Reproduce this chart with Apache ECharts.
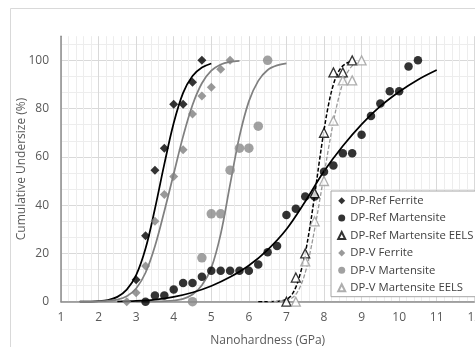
<!DOCTYPE html>
<html>
<head>
<meta charset="utf-8">
<script src="https://cdn.jsdelivr.net/npm/echarts@6.0.0/dist/echarts.min.js"></script>
<style>
  html, body { margin: 0; padding: 0; background: #ffffff; }
  #chart { width: 475px; height: 347px; }
</style>
</head>
<body>
<div id="chart"></div>
<script>
// ---------- axis settings ----------
const xTicks = [1, 2, 3, 4, 5, 6, 7, 8, 9, 10, 11, 12];
const yTicks = [0, 20, 40, 60, 80, 100];
const yMax = 110;

// ---------- measured points ----------
const refFerriteX = [3, 3.25, 3.5, 3.75, 4, 4.25, 4.5, 4.75];
const refFerriteY = [9.1, 27.3, 54.5, 63.6, 81.8, 81.8, 90.9, 100];

const refMartX = [3.25, 3.5, 3.75, 4, 4.25, 4.5, 4.75, 5, 5.25, 5.5, 5.75, 6, 6.25, 6.5, 6.75, 7, 7.25, 7.5, 7.75, 8, 8.25, 8.5, 8.75, 9, 9.25, 9.5, 9.75, 10, 10.25, 10.5];
const refMartY = [0, 2.6, 2.6, 5.1, 7.7, 7.7, 10.3, 12.8, 12.8, 12.8, 12.8, 12.8, 15.4, 20.5, 23.1, 35.9, 38.5, 43.6, 43.6, 53.8, 56.4, 61.5, 61.5, 69.2, 76.9, 82.1, 87.2, 87.2, 97.4, 100];

const refEelsX = [7, 7.25, 7.5, 7.75, 8, 8.25, 8.5, 8.75];
const refEelsY = [0, 10, 20, 45, 70, 95, 95, 100];

const vFerriteX = [2.75, 3, 3.25, 3.5, 3.75, 4, 4.25, 4.5, 4.75, 5, 5.25, 5.5];
const vFerriteY = [0, 3.7, 14.8, 33.3, 44.4, 51.9, 63, 77.8, 85.2, 88.9, 96.3, 100];

const vMartX = [4.5, 4.75, 5, 5.25, 5.5, 5.75, 6, 6.25, 6.5];
const vMartY = [0, 18.2, 36.4, 36.4, 54.5, 63.6, 63.6, 72.7, 100];

const vEelsX = [7.25, 7.5, 7.75, 8, 8.25, 8.5, 8.75, 9];
const vEelsY = [0, 16.7, 33.3, 50, 75, 91.7, 91.7, 100];

// ---------- fitted curves ----------
const fitRefFerriteX = [1.5, 1.75, 2, 2.25, 2.5, 2.75, 3, 3.25, 3.5, 3.75, 4, 4.25, 4.5, 4.75, 5];
const fitRefFerriteY = [0, 0.05, 0.2, 0.7, 2, 5, 11, 22, 38.5, 57, 74, 86.5, 93.5, 97, 98.7];

const fitVFerriteX = [1.5, 1.75, 2, 2.25, 2.5, 2.75, 3, 3.25, 3.5, 3.75, 4, 4.25, 4.5, 4.75, 5, 5.25, 5.5, 5.75];
const fitVFerriteY = [0, 0.03, 0.1, 0.35, 0.9, 2.3, 5.5, 12, 23, 37.5, 53, 68.5, 81.5, 90.5, 95.7, 98.3, 99.4, 99.8];

const fitVMartX = [3, 3.25, 3.5, 3.75, 4, 4.25, 4.5, 4.75, 5, 5.25, 5.5, 5.75, 6, 6.25, 6.5, 6.75, 7];
const fitVMartY = [0, 0.02, 0.08, 0.2, 0.5, 1.2, 3, 6.8, 14, 28, 48.5, 68.5, 83, 91.5, 96, 97.9, 98.7];

const fitRefMartX = [2.5, 3, 3.5, 4, 4.5, 5, 5.5, 6, 6.5, 7, 7.5, 8, 8.5, 9, 9.5, 10, 10.5, 11];
const fitRefMartY = [0, 0.3, 0.9, 2, 3.8, 6.5, 10.2, 15, 21.5, 30, 41.5, 54, 64.5, 73.5, 81, 87, 92, 96];

const fitRefEelsX = [6.25, 6.5, 6.75, 7, 7.125, 7.25, 7.375, 7.5, 7.625, 7.75, 7.875, 8, 8.125, 8.25, 8.375, 8.5, 8.625, 8.75];
const fitRefEelsY = [0, 0, 0.1, 1, 2.5, 6, 12, 20, 31, 44, 58, 71, 82, 90, 95, 97.7, 99, 99.6];

const fitVEelsX = [6.5, 6.75, 7, 7.125, 7.25, 7.375, 7.5, 7.625, 7.75, 7.875, 8, 8.125, 8.25, 8.375, 8.5, 8.625, 8.75, 8.875];
const fitVEelsY = [0, 0.1, 0.6, 1.3, 3, 6.5, 12, 20, 30, 41, 52.5, 64, 74.5, 83.5, 90.5, 95, 97.7, 99];

const legendNames = ['DP-Ref Ferrite', 'DP-Ref Martensite', 'DP-Ref Martensite EELS', 'DP-V Ferrite', 'DP-V Martensite', 'DP-V Martensite EELS'];

// ---------- build ----------
const zip = (xs, ys) => xs.map((x, i) => [x, ys[i]]);
const FONT = '"Open Sans", "Noto Sans", sans-serif';

function fit(name, xs, ys, color, width, type) {
  return {
    name: name, type: 'line', data: zip(xs, ys), showSymbol: false, symbol: 'none',
    smooth: 0.35, silent: true, z: 2,
    lineStyle: { color: color, width: width, type: type || 'solid' }
  };
}
function pts(name, xs, ys, symbol, size, itemStyle) {
  return {
    name: name, type: 'scatter', data: zip(xs, ys), symbol: symbol, symbolSize: size,
    itemStyle: itemStyle, z: 5
  };
}

const chart = echarts.init(document.getElementById('chart'), null, { renderer: 'canvas' });
chart.setOption({
  animation: false,
  backgroundColor: '#ffffff',
  graphic: [{
    type: 'rect', silent: true, z: -10,
    shape: { x: 10.5, y: 8.5, width: 480, height: 360 },
    style: { fill: 'none', stroke: '#d9d9d9', lineWidth: 1 }
  }],
  grid: { left: 61, top: 36.2, right: 0.7, bottom: 45.3, containLabel: false, outerBoundsMode: 'none' },
  xAxis: {
    type: 'value', min: xTicks[0], max: xTicks[xTicks.length - 1], interval: 1,
    name: 'Nanohardness (GPa)', nameLocation: 'middle', nameGap: 33, nameMoveOverlap: false,
    nameTextStyle: { color: '#595959', fontSize: 12, fontFamily: FONT },
    axisLine: { show: true, lineStyle: { color: '#8c8c8c', width: 1.5 } },
    axisTick: { show: false },
    axisLabel: { color: '#595959', fontSize: 12, fontFamily: FONT, margin: 10, hideOverlap: false },
    splitLine: { show: true, lineStyle: { color: '#d9d9d9', width: 1 } },
    minorTick: { show: false, splitNumber: 5 },
    minorSplitLine: { show: true, lineStyle: { color: '#ededed', width: 1 } }
  },
  yAxis: {
    type: 'value', min: yTicks[0], max: yMax, interval: 20,
    name: 'Cumulative Undersize (%)', nameLocation: 'middle', nameGap: 33, nameMoveOverlap: false,
    nameTextStyle: { color: '#595959', fontSize: 12, fontFamily: FONT },
    axisLine: { show: true, lineStyle: { color: '#8c8c8c', width: 1.5 } },
    axisTick: { show: false },
    axisLabel: {
      color: '#595959', fontSize: 12, fontFamily: FONT, margin: 12, showMaxLabel: false,
      formatter: v => (yTicks.indexOf(v) >= 0 ? String(v) : '')
    },
    splitLine: { show: true, showMaxLine: false, lineStyle: { color: '#d9d9d9', width: 1 } },
    minorTick: { show: false, splitNumber: 3 },
    minorSplitLine: { show: true, lineStyle: { color: '#ededed', width: 1 } }
  },
  legend: {
    data: legendNames, orient: 'vertical', left: 331, top: 191,
    padding: [2.7, 3, 2, 6.2], itemGap: 3.4, itemWidth: 7, itemHeight: 7,
    backgroundColor: '#ffffff', borderColor: '#a6a6a6', borderWidth: 1, borderRadius: 0,
    textStyle: { color: '#404040', fontSize: 11.3, fontFamily: FONT, lineHeight: 14 },
    selectedMode: false
  },
  series: [
    fit('fit1', fitRefFerriteX, fitRefFerriteY, '#000000', 1.75),
    fit('fit2', fitVFerriteX, fitVFerriteY, '#808080', 1.75),
    fit('fit3', fitVMartX, fitVMartY, '#808080', 1.75),
    fit('fit4', fitRefMartX, fitRefMartY, '#000000', 1.75),
    fit('fit5', fitRefEelsX, fitRefEelsY, '#000000', 1.5, [4, 2]),
    fit('fit6', fitVEelsX, fitVEelsY, '#999999', 1.3, [4, 2]),
    pts('DP-Ref Ferrite', refFerriteX, refFerriteY, 'diamond', 9, { color: '#000000' }),
    pts('DP-Ref Martensite', refMartX, refMartY, 'circle', 8.5, { color: '#000000' }),
    pts('DP-Ref Martensite EELS', refEelsX, refEelsY, 'triangle', 9, { color: '#ffffff', borderColor: '#000000', borderWidth: 1.3 }),
    pts('DP-V Ferrite', vFerriteX, vFerriteY, 'diamond', 9, { color: '#808080' }),
    pts('DP-V Martensite', vMartX, vMartY, 'circle', 9.5, { color: '#8a8a8a' }),
    pts('DP-V Martensite EELS', vEelsX, vEelsY, 'triangle', 9, { color: '#ffffff', borderColor: '#9a9a9a', borderWidth: 1.3 })
  ]
});
</script>
</body>
</html>
